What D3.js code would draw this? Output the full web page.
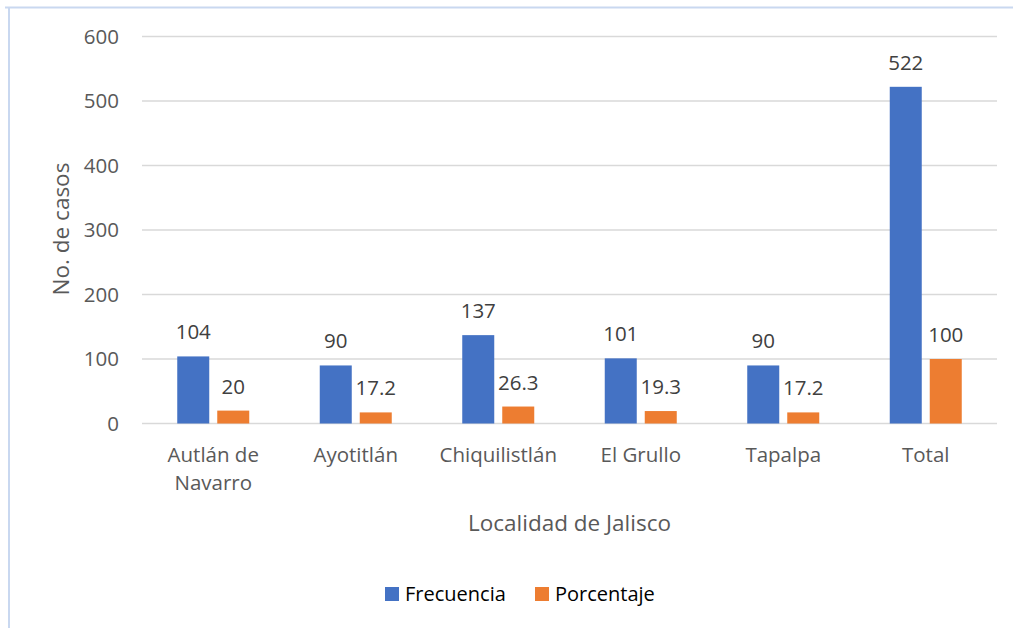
<!DOCTYPE html>
<html>
<head>
<meta charset="utf-8">
<script src="https://cdn.jsdelivr.net/npm/d3@7"></script>
<style>
  body { margin: 0; background: #fff; }
  svg { display: block; font-family: "Open Sans", "Noto Sans", sans-serif; }
</style>
</head>
<body>
<svg id="chart" width="1013" height="628"></svg>
<script>
const categories = [['Autlán de', 'Navarro'], ['Ayotitlán'], ['Chiquilistlán'], ['El Grullo'], ['Tapalpa'], ['Total']];
const frecuencia = [104, 90, 137, 101, 90, 522];
const porcentaje = [20, 17.2, 26.3, 19.3, 17.2, 100];
const yTicks = [0, 100, 200, 300, 400, 500, 600];
const seriesNames = ['Frecuencia', 'Porcentaje'];
const colors = ['#4472c4', '#ed7d31'];

const svg = d3.select('#chart');

// outer frame (only top + left edges show)
svg.append('line').attr('x1', 5).attr('x2', 1013).attr('y1', 7.5).attr('y2', 7.5)
  .attr('stroke', '#c9d8f0').attr('stroke-width', 2);
svg.append('line').attr('x1', 9).attr('x2', 9).attr('y1', 7).attr('y2', 628)
  .attr('stroke', '#c9d8f0').attr('stroke-width', 2);

const plotL = 142, plotR = 997, plotT = 36.5, plotB = 423.5;

const x0 = d3.scaleBand()
  .domain(d3.range(categories.length))
  .range([plotL, plotR]);

const x1 = d3.scaleBand()
  .domain([0, 1])
  .range([x0.bandwidth() / 2 - 36, x0.bandwidth() / 2 + 36])
  .paddingInner(0.2);

const y = d3.scaleLinear().domain([0, 600]).range([plotB, plotT]);

// gridlines
svg.append('g').selectAll('line')
  .data(yTicks)
  .join('line')
  .attr('x1', plotL).attr('x2', plotR)
  .attr('y1', d => y(d)).attr('y2', d => y(d))
  .attr('stroke', '#d9d9d9').attr('stroke-width', 1.5);

// y tick labels
svg.append('g').selectAll('text')
  .data(yTicks)
  .join('text')
  .attr('x', 119)
  .attr('y', d => y(d))
  .attr('dy', '0.36em')
  .attr('text-anchor', 'end')
  .attr('fill', '#595959')
  .style('font-size', '20.5px')
  .text(d => d);

// bars
const groups = svg.append('g').selectAll('g')
  .data(categories.map((c, i) => ({i, vals: [frecuencia[i], porcentaje[i]]})))
  .join('g')
  .attr('transform', d => 'translate(' + x0(d.i) + ',0)');

groups.selectAll('rect')
  .data(d => d.vals)
  .join('rect')
  .attr('x', (d, j) => x1(j))
  .attr('width', x1.bandwidth())
  .attr('y', d => y(d))
  .attr('height', d => y(0) - y(d))
  .attr('fill', (d, j) => colors[j]);

groups.selectAll('text')
  .data(d => d.vals)
  .join('text')
  .attr('x', (d, j) => x1(j) + x1.bandwidth() / 2)
  .attr('y', d => y(d) - 17)
  .attr('text-anchor', 'middle')
  .attr('fill', '#404040')
  .style('font-size', '20.5px')
  .text(d => d);

// category labels
const cat = svg.append('g').selectAll('text')
  .data(categories)
  .join('text')
  .attr('x', (d, i) => x0(i) + x0.bandwidth() / 2)
  .attr('y', 462)
  .attr('text-anchor', 'middle')
  .attr('fill', '#595959')
  .style('font-size', '20.5px');
cat.each(function(lines) {
  const t = d3.select(this);
  lines.forEach((l, k) => {
    t.append('tspan')
      .attr('x', t.attr('x'))
      .attr('dy', k === 0 ? 0 : 28)
      .text(l);
  });
});

// axis titles
svg.append('text')
  .attr('transform', 'translate(69,229) rotate(-90)')
  .attr('text-anchor', 'middle')
  .attr('fill', '#595959')
  .style('font-size', '22.5px')
  .text('No. de casos');

svg.append('text')
  .attr('x', (plotL + plotR) / 2)
  .attr('y', 531)
  .attr('text-anchor', 'middle')
  .attr('fill', '#595959')
  .style('font-size', '22.5px')
  .text('Localidad de Jalisco');

// legend
const legendX = [385, 535];
const lg = svg.append('g').selectAll('g')
  .data(seriesNames)
  .join('g')
  .attr('transform', (d, i) => 'translate(' + legendX[i] + ',587)');
lg.append('rect').attr('width', 14).attr('height', 14).attr('fill', (d, i) => colors[i]);
lg.append('text')
  .attr('x', 20).attr('y', 14)
  .attr('fill', '#000')
  .style('font-size', '20px')
  .text(d => d);
</script>
</body>
</html>
